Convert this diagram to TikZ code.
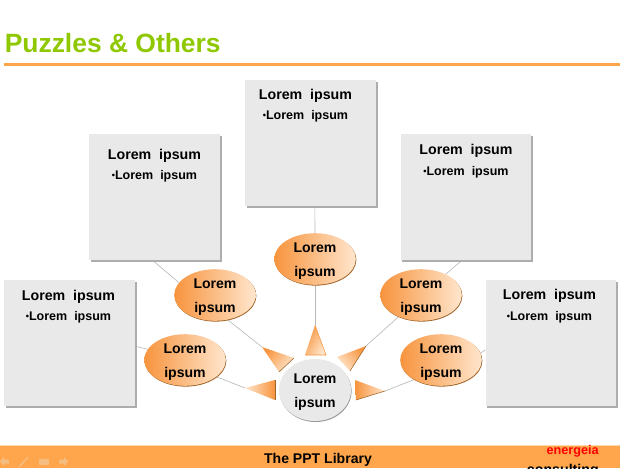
\documentclass[tikz,border=0pt]{standalone}
\usepackage{fontspec}
\setmainfont{Liberation Sans}
\usetikzlibrary{positioning, shapes.geometric}
\definecolor{titlegreen}{RGB}{143,200,0}
\definecolor{barorange}{RGB}{255,165,75}
\definecolor{navtan}{RGB}{244,190,130}
\definecolor{ballorange}{RGB}{247,148,62}
\definecolor{balllight}{RGB}{255,230,205}
\definecolor{balledge}{RGB}{160,100,40}
\definecolor{boxgrey}{RGB}{233,233,233}
\newcommand{\smalldot}{\raisebox{0.5pt}{\fontsize{6.5pt}{7pt}\selectfont •}}
\pgfdeclarelayer{under}
\pgfsetlayers{under,main}

\begin{document}
\begin{tikzpicture}[
  x=0.25mm, y=-0.25mm,
  card/.style={rectangle, fill=boxgrey, minimum width=32.7mm, minimum height=31.5mm, inner sep=0pt,
               preaction={fill=black!32, transform canvas={shift={(0.45mm,-0.5mm)}}}},
  head/.style={anchor=base, inner sep=0pt, font=\bfseries\fontsize{10.1pt}{12pt}\selectfont},
  item/.style={anchor=base, inner sep=0pt, font=\bfseries\fontsize{8.9pt}{11pt}\selectfont},
  ball/.style={ellipse, left color=ballorange, right color=balllight,
               preaction={fill=balledge, transform canvas={shift={(0.15mm,-0.2mm)}}},
               minimum width=20.4mm, minimum height=12.9mm, inner sep=0pt, align=center,
               text height=24.9pt, text depth=0.7pt,
               font=\bfseries\fontsize{10pt}{16.6pt}\selectfont},
  hub/.style={ellipse, fill=boxgrey, preaction={fill=black!40, transform canvas={shift={(0.15mm,-0.25mm)}}},
              minimum width=18mm, minimum height=15.5mm, inner sep=0pt, align=center,
              text height=24.9pt, text depth=0.7pt,
              font=\bfseries\fontsize{10pt}{16.6pt}\selectfont},
  link/.style={draw=black!28, line width=0.45pt},
  wedge/.style={shading=axis, top color=ballorange, bottom color=balllight, shading angle=#1},
  rim/.style={draw=balledge, line width=0.4pt},
  nav/.style={fill=navtan}
]
\useasboundingbox (0,0) rectangle (620,468);

% title and footer
\node[anchor=base west, inner sep=0pt, text=titlegreen, font=\bfseries\fontsize{18.8pt}{20pt}\selectfont] (title) at (4.5,52) {Puzzles \& Others};
\fill[barorange] (4,62.5) rectangle (620,65.5);
\fill[barorange] (0,445) rectangle (620,468);
\draw[barorange!45, line width=0.3pt] (0,444.7) -- (620,444.7);
\node[anchor=base, inner sep=0pt, font=\bfseries\fontsize{10pt}{12pt}\selectfont] (lib) at (318,463) {The PPT Library};
\node[anchor=base east, inner sep=0pt, text=red, font=\bfseries\fontsize{9pt}{10pt}\selectfont] (eng) at (599,454.5) {energeia};
\node[anchor=base east, inner sep=0pt, font=\bfseries\fontsize{10.1pt}{12pt}\selectfont] (cons) at (599,474.5) {consulting};

% slide buttons
\fill[nav] (0,461.5) -- (4,457) -- (4,459.5) -- (9,459.5) -- (9,463.5) -- (4,463.5) -- (4,466) -- cycle;
\draw[navtan, line width=1pt] (19,467) -- (28,457);
\fill[nav] (39,459) rectangle (49,465);
\fill[nav] (68,461.5) -- (64,457) -- (64,459.5) -- (59,459.5) -- (59,463.5) -- (64,463.5) -- (64,466) -- cycle;

% cards
\node[card] (cardT) at (310.5,143) {};
\node[card] (cardB) at (154.5,197) {};
\node[card] (cardC) at (466,197) {};
\node[card] (cardA) at (69.5,343) {};
\node[card] (cardD) at (551,343) {};

% ovals
\node[ball] (ballT) at (315,259) {Lorem\\ipsum};
\node[ball] (ballB) at (215,295) {Lorem\\ipsum};
\node[ball] (ballC) at (421,295) {Lorem\\ipsum};
\node[ball] (ballA) at (185,360) {Lorem\\ipsum};
\node[ball] (ballD) at (441,360) {Lorem\\ipsum};
\node[hub] (hub) at (315,390) {Lorem\\ipsum};

% wedge tips
\coordinate (tipT) at (315,325);
\coordinate (tipB) at (262,347);
\coordinate (tipC) at (366,346);
\coordinate (tipA) at (245,388);
\coordinate (tipD) at (385,391);

\begin{pgfonlayer}{under}
\draw[link] ([xshift=1.1mm]cardT.south) -- (ballT);
\draw[link] ([xshift=-0.5mm]cardB.south) -- (ballB.161);
\draw[link] ([xshift=-1mm]cardC.south) -- (ballC.40);
\draw[link] ([yshift=-0.8mm]cardA.east) -- (ballA.164);
\draw[link] ([yshift=-1.7mm]cardD.west) -- (ballD.10);
\draw[link] (ballT) -- (tipT);
\draw[link] (ballB.-63) -- (tipB);
\draw[link] (ballC.-136) -- (tipC);
\draw[link] (ballA.-28) -- (tipA);
\draw[link] (ballD.-144) -- (tipD);
\end{pgfonlayer}

\path[wedge=60] (tipT) -- (305,355) -- (326,355) -- cycle;
\path[wedge=50] (tipB) -- (294,358) -- (279,372) -- cycle;
\path[wedge=-50] (tipC) -- (337,357) -- (350,371) -- cycle;
\path[wedge=-90] (tipA) -- (275,380) -- (275,400) -- cycle;
\path[wedge=90] (tipD) -- (355,380) -- (356,400) -- cycle;
\draw[rim, draw=ballorange] (305,355) -- (326,355) -- (tipT);
\draw[rim] (294,358) -- (279,372);
\draw[rim] (tipC) -- (350,371);
\draw[rim] (275,380) -- (275,400);
\draw[rim] (356,400) -- (tipD);

% card texts
\node[head] (headT) at (305.5,99) {Lorem~~ipsum};
\node[item] (itemT) at (305.5,119) {\smalldot Lorem~~ipsum};
\node[head] (headB) at (154.5,159.5) {Lorem~~ipsum};
\node[item] (itemB) at (154.5,179.5) {\smalldot Lorem~~ipsum};
\node[head] (headC) at (466,154.5) {Lorem~~ipsum};
\node[item] (itemC) at (466,175) {\smalldot Lorem~~ipsum};
\node[head] (headA) at (68.5,300) {Lorem~~ipsum};
\node[item] (itemA) at (68.5,320.5) {\smalldot Lorem~~ipsum};
\node[head] (headD) at (549.5,299.5) {Lorem~~ipsum};
\node[item] (itemD) at (549.5,320) {\smalldot Lorem~~ipsum};
\end{tikzpicture}
\end{document}
